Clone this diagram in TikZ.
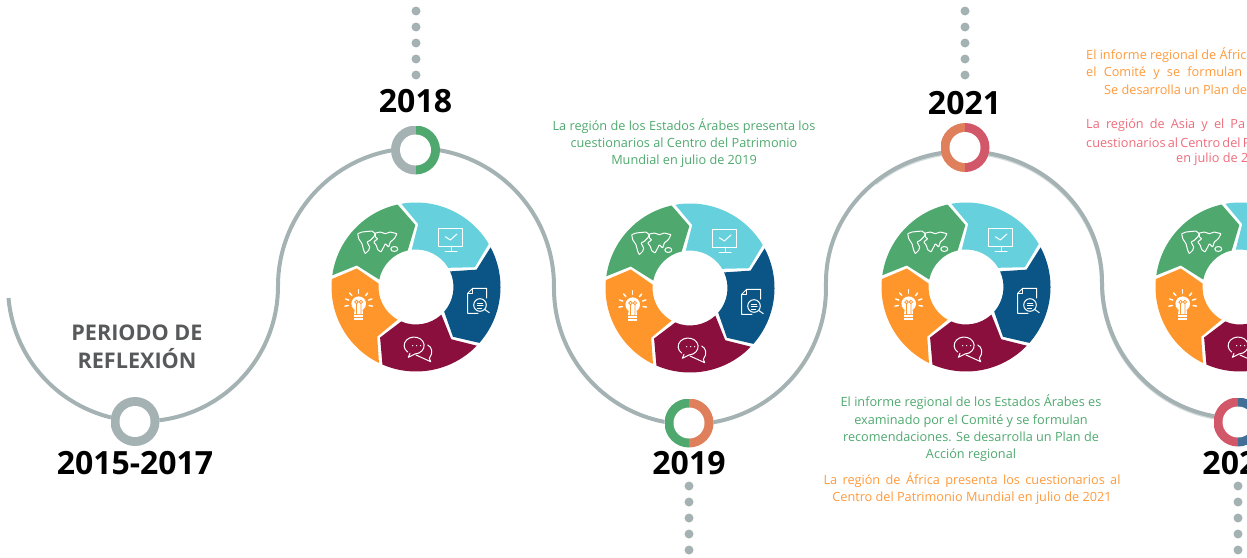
\documentclass[tikz,border=0pt]{standalone}
\usepackage{fontspec}
\setmainfont{Open Sans}
\definecolor{ringgrey}{HTML}{A5B2B3}
\definecolor{dotgrey}{HTML}{A5B2B3}
\definecolor{shadowgrey}{HTML}{D3DCDC}
\definecolor{labelgrey}{HTML}{58595B}
\definecolor{segcyan}{HTML}{66D0DC}
\definecolor{segblue}{HTML}{0A5585}
\definecolor{segmaroon}{HTML}{8A0F3C}
\definecolor{segorange}{HTML}{FF962B}
\definecolor{seggreen}{HTML}{4FA96F}
\definecolor{ringgreen}{HTML}{4FA96F}
\definecolor{ringcoral}{HTML}{E07F5C}
\definecolor{ringred}{HTML}{D15769}
\definecolor{ringblue}{HTML}{436E96}
\definecolor{textgreen}{HTML}{4FA96F}
\definecolor{textorange}{HTML}{FF9A3C}
\definecolor{textred}{HTML}{EE6C7C}
\tikzset{
  waveline/.style={draw=ringgrey,line width=4pt},
  yearring/.style 2 args={circle,inner sep=0pt,minimum size=49pt,fill=white,
    path picture={
      \fill[#1] (path picture bounding box.south west) rectangle (path picture bounding box.north);
      \fill[#2] (path picture bounding box.south) rectangle (path picture bounding box.north east);
      \fill[white] (path picture bounding box.center) circle (15.5);
    }},
  yearlabel/.style={font=\bfseries\fontsize{32}{32}\selectfont,text=black,inner sep=0pt},
  notegreen/.style={font=\fontsize{12.7}{17.3}\selectfont,text=textgreen,align=center,inner sep=0pt},
  noteorange/.style={font=\fontsize{12.7}{17.3}\selectfont,text=textorange,inner sep=0pt,anchor=west},
  notered/.style={font=\fontsize{12.7}{17.3}\selectfont,text=textred,inner sep=0pt,anchor=west},
  icon/.style={draw=white,line width=1pt,line join=round,line cap=round},
  donut/.pic={
    \foreach \segcol/\segrot in {seggreen/0,segcyan/-72,segblue/-144,segmaroon/-216,segorange/-288}{
      \fill[\segcol,rotate=\segrot] (172:84.5) arc[start angle=172,end angle=102.6,radius=84.5]
        -- (90.6:62) -- (102.8:37.5) arc[start angle=102.8,end angle=168.6,radius=37.5]
        -- (160:63) -- cycle;
    }
    % monitor
    \draw[icon] (22.7,41) rectangle (46.7,58.7);
    \draw[icon] (29.3,50.3) -- (34.3,47) -- (41,53);
    \draw[icon] (35,41) -- (35,35.3) (29,35.3) -- (41,35.3);
    % document
    \draw[icon] (62,-26.3) -- (51.7,-26.3) -- (51.7,-6.3) -- (56.7,-1.3) -- (70.7,-1.3) -- (70.7,-11);
    \draw[icon] (51.7,-6.3) -- (56.7,-6.3) -- (56.7,-1.3);
    \draw[icon] (64,-18) circle (6.3);
    \draw[icon] (61.3,-16.3) -- (66.7,-16.3) (61.3,-18.7) -- (67,-18.7) (61.3,-21) -- (65.5,-21);
    \draw[icon] (68.8,-22.5) -- (73.3,-25.7);
    % chat bubbles
    \draw[icon] (-6,-66.3) -- (-7.7,-70.3) -- (-1,-67);
    \draw[icon] (-1,-67) arc[start angle=-85,end angle=230,x radius=10,y radius=8.5] ;
    \draw[icon] (11.7,-58) .. controls (16,-60) and (17.5,-66) .. (13.3,-71.3) -- (14.7,-74.7) -- (7.3,-71.3) -- (0,-68);
    \fill[white] (-3.3,-58.7) circle (0.7) (0.7,-58.7) circle (0.7) (4.7,-58.7) circle (0.7);
    % bulb
    \fill[white] (-57.3,-16.7) circle (7.3);
    \fill[white] (-61,-21) -- (-53.6,-21) -- (-53,-27) -- (-62,-27) -- cycle;
    \fill[white] (-62,-28) rectangle (-53,-33.3);
    \draw[segorange,line width=0.8pt] (-59.5,-15) circle (1.7) (-55.1,-15) circle (1.7) (-59.5,-17) -- (-59.5,-27) (-55.1,-17) -- (-55.1,-27);
    \draw[segorange,line width=0.6pt] (-62,-30.5) -- (-53,-30.5);
    \foreach \rayang in {-10,20,50,90,130,160,190}{
      \draw[icon,line width=1.4pt] (-57.3,-16.7) ++(\rayang:10.5) -- ++(\rayang:3.5);
    }
    % world map
    \draw[icon,rounded corners=0.5pt] (-58.3,53.3) -- (-54,55) -- (-44,56) -- (-40.7,53.3) -- (-42.3,50) -- (-45.7,46.7)
      -- (-49,45) -- (-46.3,40) -- (-47.3,36.7) -- (-50.7,33.3) -- (-52.3,36.7) -- (-54,43.3) -- (-57.3,48.3) -- cycle;
    \draw[icon,rounded corners=0.5pt] (-40.7,54) -- (-35.7,55) -- (-30.7,53.3) -- (-25.7,55) -- (-19,53.3) -- (-21.7,48.3)
      -- (-25.7,45) -- (-27.3,40) -- (-30.7,43.3) -- (-32.3,40) -- (-35,35) -- (-38.3,37.3) -- (-39.7,41.7) -- (-42.3,45)
      -- (-38.3,48.3) -- (-40.7,50) -- cycle;
    \draw[icon] (-21.7,38) circle [x radius=3.5,y radius=2.5];
  }
}
\begin{document}
\begin{tikzpicture}[x=1pt,y=1pt]
  \useasboundingbox (0,-557) rectangle (1247,0);
  \clip (0,-557) rectangle (1247,0);

  % wave
  \coordinate (wavestart) at (8.5,-298);
  \coordinate (waveshadow) at (875.3,-183.2);
  \draw[draw=shadowgrey,line width=4pt] (waveshadow) arc[start angle=130,end angle=0,x radius=138,y radius=131]
    arc[start angle=180,end angle=270,radius=136];
  \draw[waveline] (wavestart) arc[start angle=185,end angle=360,radius=135]
    arc[start angle=180,end angle=0,radius=138]
    -- ++(0,-2) arc[start angle=180,end angle=360,radius=136]
    -- ++(0,6) arc[start angle=180,end angle=0,x radius=138,y radius=131]
    arc[start angle=180,end angle=270,radius=136];

  % year rings
  \node[yearring={ringgrey}{ringgrey}] (ring2015) at (135,-421.5) {};
  \node[yearring={ringgrey}{ringgreen}] (ring2018) at (415.5,-150) {};
  \node[yearring={ringgreen}{ringcoral}] (ring2019) at (689,-423) {};
  \node[yearring={ringcoral}{ringred}] (ring2021) at (965,-147.5) {};
  \node[yearring={ringred}{ringblue}] (ring2020) at (1238,-422) {};

  \node[yearlabel] (year2015) at (135,-463) {2015-2017};
  \node[yearlabel] (year2018) at (415.5,-101.5) {2018};
  \node[yearlabel] (year2019) at (689,-463) {2019};
  \node[yearlabel] (year2021) at (964.5,-103.5) {2021};
  \node[yearlabel] (year2020) at (1239,-463) {2020};

  \node[font=\bfseries\fontsize{21.6}{28}\selectfont,text=labelgrey,align=center,inner sep=0pt] (reflexion) at (137,-346.5) {PERIODO DE\\REFLEXIÓN};

  % dots
  \foreach \dotx/\dotstart in {416/-11,965/-11,689/-486,1238/-486}{
    \foreach \dotn in {0,1,2,3,4}{
      \fill[dotgrey] (\dotx,\dotstart-16*\dotn) circle (4.5);
    }
  }

  % donuts
  \path (416,-287) pic {donut};
  \path (690,-288) pic {donut};
  \path (966,-287) pic {donut};
  \path (1240,-287) pic {donut};

  % notes
  \node[notegreen] (note2019) at (684,-143) {La región de los Estados Árabes presenta los\\cuestionarios al Centro del Patrimonio\\Mundial en julio de 2019};
  \node[notegreen] (note2021a) at (971,-428.5) {El informe regional de los Estados Árabes es\\examinado por el Comité y se formulan\\recomendaciones. Se desarrolla un Plan de\\Acción regional};
  \node[notegreen,text=textorange] (note2021b) at (972,-488.5) {\makebox[297pt][s]{La región de África presenta los cuestionarios al}\\Centro del Patrimonio Mundial en julio de 2021};

  \node[noteorange] (noteafr1) at (1086,-55.5) {El informe regional de África};
  \node[noteorange] (noteafr2) at (1086,-73) {\makebox[156pt][s]{el Comité y se formulan}};
  \node[noteorange] (noteafr3) at (1104,-90) {Se desarrolla un Plan de};
  \node[notered] (noteasia1) at (1086,-125.5) {\makebox[159pt][s]{La región de Asia y el Pa}};
  \node[notered] (noteasia2) at (1086,-142.5) {\makebox[163pt][s]{cuestionarios al Centro del P}};
  \node[notered] (noteasia3) at (1176,-159.5) {en julio de 2};
\end{tikzpicture}
\end{document}
